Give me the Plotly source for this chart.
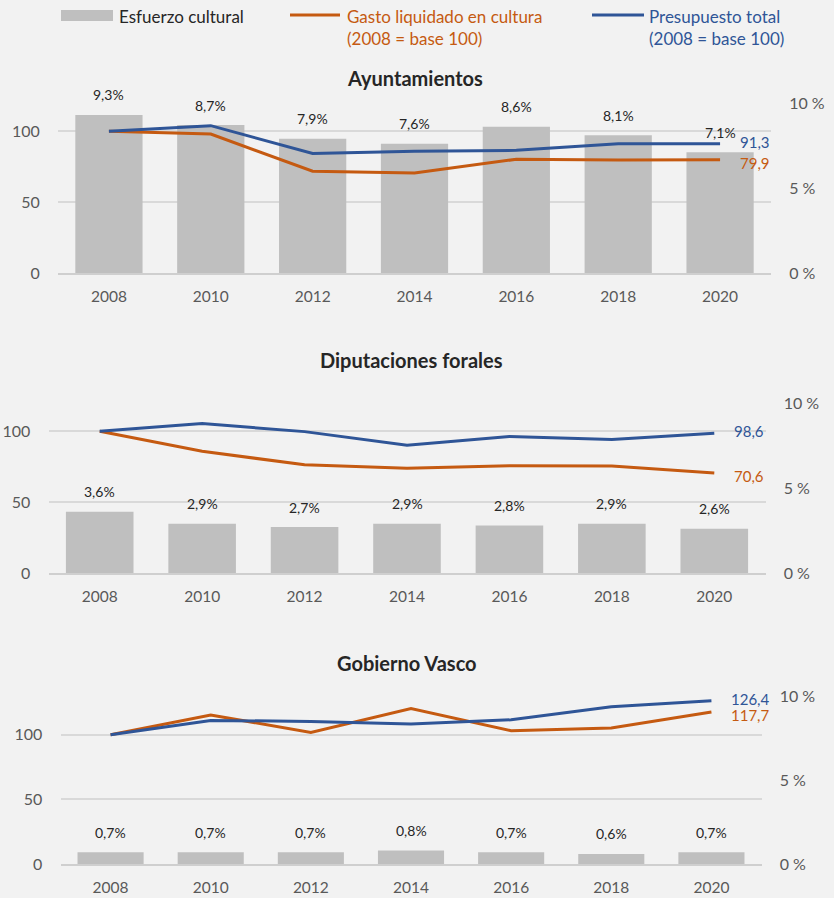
import plotly.graph_objects as go

# ---------------- data ----------------
years = ["2008", "2010", "2012", "2014", "2016", "2018", "2020"]

ayto_esfuerzo = [9.3, 8.7, 7.9, 7.6, 8.6, 8.1, 7.1]
ayto_gasto = [100, 98.1, 71.8, 70.6, 80.3, 79.8, 79.9]
ayto_presup = [100, 104.0, 84.3, 85.9, 86.6, 91.3, 91.3]

dip_esfuerzo = [3.6, 2.9, 2.7, 2.9, 2.8, 2.9, 2.6]
dip_gasto = [100, 85.9, 76.4, 74.0, 75.7, 75.5, 70.6]
dip_presup = [100, 105.5, 99.8, 90.2, 96.4, 94.3, 98.6]

gv_esfuerzo = [0.7, 0.7, 0.7, 0.8, 0.7, 0.6, 0.7]
gv_gasto = [100, 115.3, 101.8, 120.2, 103.1, 105.2, 117.7]
gv_presup = [100, 111.1, 110.3, 108.3, 111.6, 121.7, 126.4]

panel_titles = ["Ayuntamientos", "Diputaciones forales", "Gobierno Vasco"]
legend_labels = ["Esfuerzo cultural", "Gasto liquidado en cultura", "Presupuesto total", "(2008 = base 100)"]
pct_ticks = [0, 5, 10]
idx_ticks = [0, 50, 100]

# ---------------- style ----------------
W, H = 834, 898
BG = "#F2F2F2"
BAR = "#BFBFBF"
ORANGE = "#C55A11"
BLUE = "#2F5597"
TXT = "#262626"
TICK = "#595959"
FONT = "Lato, Noto Sans, sans-serif"

def px(x):
    return x / W

def py(y):
    return 1 - y / H

panels = [
    dict(esf=ayto_esfuerzo, gas=ayto_gasto, pre=ayto_presup, xd=(58, 771), yd=(103, 273), imax=120, tx=415, ty=78),
    dict(esf=dip_esfuerzo, gas=dip_gasto, pre=dip_presup, xd=(48.5, 765.5), yd=(403, 573), imax=120, tx=411, ty=360),
    dict(esf=gv_esfuerzo, gas=gv_gasto, pre=gv_presup, xd=(60.5, 761.5), yd=(696, 864), imax=130, tx=407, ty=663),
]

fig = go.Figure()
layout = {}
annotations = []
n = len(years)

for i, p in enumerate(panels):
    xn = "" if i == 0 else str(i + 1)
    yb = "" if i == 0 else str(2 * i + 1)
    yo = str(2 * i + 2)
    xref = "x" + xn
    ybref = "y" + yb
    yoref = "y" + yo

    fig.add_trace(go.Bar(x=years, y=p["esf"], xaxis=xref, yaxis=ybref,
                         marker=dict(color=BAR, line=dict(width=0)), showlegend=False))
    fig.add_trace(go.Scatter(x=years, y=p["gas"], xaxis=xref, yaxis=yoref, mode="lines",
                             line=dict(color=ORANGE, width=3), showlegend=False))
    fig.add_trace(go.Scatter(x=years, y=p["pre"], xaxis=xref, yaxis=yoref, mode="lines",
                             line=dict(color=BLUE, width=3), showlegend=False))

    ydom = [py(p["yd"][1]), py(p["yd"][0])]
    layout["xaxis" + xn] = dict(
        domain=[px(p["xd"][0]), px(p["xd"][1])], anchor=ybref, type="category",
        categoryorder="array", categoryarray=years, range=[-0.5, n - 0.5], automargin=False,
        showline=True, linecolor="#CFCFCF", linewidth=1.5, showgrid=False, zeroline=False,
        ticks="outside", ticklen=9, tickcolor="rgba(0,0,0,0)",
        tickfont=dict(size=15.5, color=TICK, family=FONT), fixedrange=True,
    )
    layout["yaxis" + yb] = dict(
        domain=ydom, anchor=xref, side="right", range=[0, 10], tickvals=pct_ticks, automargin=False,
        ticktext=[f"{v} %" for v in pct_ticks], showgrid=False, zeroline=False, showline=False,
        ticks="outside", ticklen=14, tickcolor="rgba(0,0,0,0)",
        tickfont=dict(size=16, color=TICK, family=FONT),
    )
    layout["yaxis" + yo] = dict(
        overlaying=ybref, anchor=xref, side="left", range=[0, p["imax"]], tickvals=idx_ticks,
        automargin=False,
        showgrid=True, gridcolor="#D9D9D9", gridwidth=1.5, zeroline=False, showline=False,
        ticks="outside", ticklen=14, tickcolor="rgba(0,0,0,0)",
        tickfont=dict(size=16, color=TICK, family=FONT),
    )

    # bar value labels
    for k, v in enumerate(p["esf"]):
        annotations.append(dict(x=k, y=v, xref=xref, yref=ybref, yshift=20, showarrow=False,
                                yanchor="middle", text=f"{v:.1f}%".replace(".", ","),
                                font=dict(size=14, color=TXT, family=FONT)))
    # end labels
    annotations.append(dict(x=n - 1, y=p["pre"][-1], xref=xref, yref=yoref, xanchor="left", yanchor="middle",
                            xshift=19, yshift=2, showarrow=False, borderpad=0,
                            text=f"{p['pre'][-1]:.1f}".replace(".", ","),
                            font=dict(size=15, color=BLUE, family=FONT)))
    annotations.append(dict(x=n - 1, y=p["gas"][-1], xref=xref, yref=yoref, xanchor="left", yanchor="middle",
                            xshift=19, yshift=-3, showarrow=False, borderpad=0,
                            text=f"{p['gas'][-1]:.1f}".replace(".", ","),
                            font=dict(size=15, color=ORANGE, family=FONT)))
    # title
    annotations.append(dict(x=px(p["tx"]), y=py(p["ty"]), xref="paper", yref="paper", showarrow=False,
                            xanchor="center", yanchor="middle",
                            text=f"<b>{panel_titles[i]}</b>", font=dict(size=20, color=TXT, family=FONT)))

# ---------------- legend (drawn) ----------------
shapes = [
    dict(type="rect", xref="paper", yref="paper", x0=px(61), x1=px(113), y0=py(21), y1=py(10),
         fillcolor=BAR, line=dict(width=0)),
    dict(type="line", xref="paper", yref="paper", x0=px(290), x1=px(340), y0=py(15), y1=py(15),
         line=dict(color=ORANGE, width=3)),
    dict(type="line", xref="paper", yref="paper", x0=px(592), x1=px(644), y0=py(15), y1=py(15),
         line=dict(color=BLUE, width=3)),
]
leg = [
    (117, 16, legend_labels[0], TXT),
    (345, 16, legend_labels[1], ORANGE),
    (345, 38, legend_labels[3], ORANGE),
    (647, 16, legend_labels[2], BLUE),
    (647, 38, legend_labels[3], BLUE),
]
for x, y, t, c in leg:
    annotations.append(dict(x=px(x), y=py(y), xref="paper", yref="paper", xanchor="left", yanchor="middle",
                            showarrow=False, text=t, font=dict(size=17, color=c, family=FONT)))

fig.update_layout(
    template="none",
    width=W, height=H, margin=dict(l=0, r=0, t=0, b=0, pad=0, autoexpand=False),
    paper_bgcolor=BG, plot_bgcolor=BG, bargap=0.34, showlegend=False,
    font=dict(family=FONT, color=TXT), annotations=annotations, shapes=shapes,
    separators=",.", hovermode=False, **layout,
)

fig.write_html("out.html", post_script="document.body.style.margin='0';",
               config={"displayModeBar": False})
